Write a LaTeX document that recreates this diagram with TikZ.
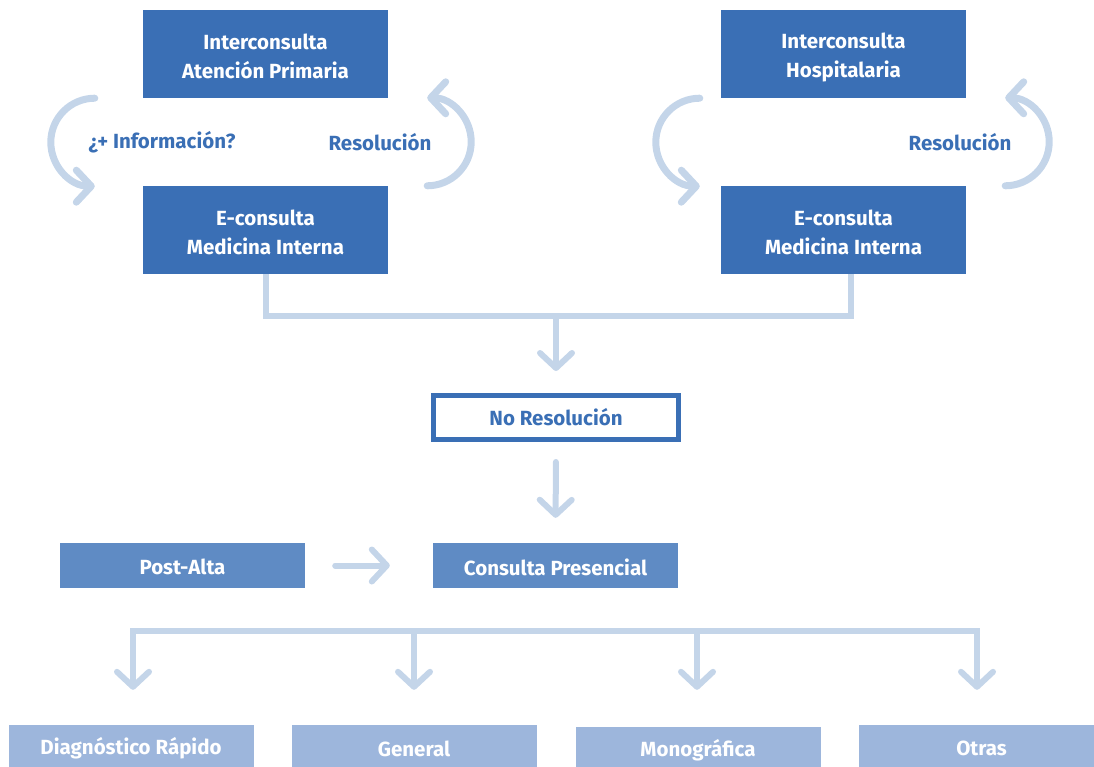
\documentclass[tikz,border=0pt]{standalone}
\usepackage{fontspec}
\setmainfont{Fira Sans}
\usetikzlibrary{arrows.meta}
\definecolor{dkblue}{HTML}{3A6FB5}
\definecolor{mdblue}{HTML}{5F8BC4}
\definecolor{ltblue}{HTML}{9DB6DC}
\definecolor{conn}{HTML}{C4D5E9}
\begin{document}
\begin{tikzpicture}[x=1pt,y=-1pt,
  boxfont/.style={font=\fontsize{20.5}{29}\selectfont\bfseries},
  darkbox/.style={fill=dkblue, minimum width=245pt, minimum height=88pt, inner sep=0pt},
  midbox/.style={fill=mdblue, minimum width=245pt, minimum height=45pt, inner sep=0pt},
  lightbox/.style={fill=ltblue, minimum width=245pt, minimum height=44pt, inner sep=0pt},
  boxtext/.style={boxfont, text=white, align=center, inner sep=0pt},
  framebox/.style={boxfont, draw=dkblue, line width=5pt, fill=white, text=dkblue, minimum width=245pt, minimum height=44pt, inner sep=0pt},
  lbl/.style={boxfont, text=dkblue, inner sep=0pt},
  connline/.style={draw=conn, line width=6pt},
  arr/.style={draw=conn, line width=6pt, line cap=round, -{Straight Barb[length=15pt,width=32pt,round]}},
  carr/.style={draw=conn, line width=7pt, line cap=round, -{Straight Barb[length=15pt,width=32pt,round]}}
]
\useasboundingbox (0,0) rectangle (1094,767);

% top boxes
\node[darkbox] (ap)   at (265.5,54) {};
\node[darkbox] (hosp) at (843.5,54) {};
\node[darkbox] (ecl)  at (265.5,230) {};
\node[darkbox] (ecr)  at (843.5,230) {};
\node[boxtext] (apt)   at ([yshift=-2.5pt]ap.center) {Interconsulta\\Atención Primaria};
\node[boxtext] (hospt) at ([yshift=-3pt]hosp.center) {Interconsulta\\Hospitalaria};
\node[boxtext] (eclt)  at ([yshift=-2.5pt]ecl.center) {E-consulta\\Medicina Interna};
\node[boxtext] (ecrt)  at ([yshift=-2.5pt]ecr.center) {E-consulta\\Medicina Interna};

% labels
\node[lbl] (info) at (162,142) {¿+ Información?};
\node[lbl] (resl) at (380,142) {Resolución};
\node[lbl] (resr) at (960,142) {Resolución};

% curved arrows
\draw[carr] ([xshift=-48pt]ap.south west) arc[start angle=270,end angle=90,radius=44];
\draw[carr] ([xshift=39pt]ecl.north east) arc[start angle=90,end angle=-90,radius=44];
\draw[carr] ([xshift=-21pt]hosp.south west) arc[start angle=270,end angle=90,radius=44];
\draw[carr] ([xshift=39pt]ecr.north east) arc[start angle=90,end angle=-90,radius=44];

% middle
\node[framebox] (nores) at (556,417.5) {No Resolución};
\node[midbox] (post) at (182.5,565.5) {};
\node[midbox] (cons) at (555.5,565.5) {};
\node[boxtext] (postt) at ([yshift=-1.5pt]post.center) {Post-Alta};
\node[boxtext] (const) at ([yshift=-1.5pt]cons.center) {Consulta Presencial};

\coordinate (j1) at (556,316);
\draw[connline] (ecl.south) |- (j1) -| ([xshift=7.5pt]ecr.south);
\draw[arr, shorten >=22pt] (j1) -- (nores.north);
\draw[arr, shorten <=20pt, shorten >=25pt] (nores.south) -- (cons.north);
\draw[arr, shorten <=30pt, shorten >=43pt] (post.east) -- (cons.west);

% bottom boxes
\node[lightbox] (diag) at (131,747) {};
\node[lightbox] (gen)  at (414,747) {};
\node[lightbox] (mono) at (698,749) {};
\node[lightbox] (otr)  at (981.5,747) {};
\node[boxtext] (diagt) at ([yshift=-1.5pt]diag.center) {Diagnóstico Rápido};
\node[boxtext] (gent)  at ([yshift=-1.5pt]gen.center) {General};
\node[boxtext] (monot) at ([yshift=-1.5pt]mono.center) {Monográfica};
\node[boxtext] (otrt)  at ([yshift=-1.5pt]otr.center) {Otras};

\coordinate (b1) at (133,631);
\coordinate (b2) at (414,631);
\coordinate (b3) at (697,631);
\coordinate (b4) at (977,631);
\draw[connline, line cap=rect] (b1) -- (b4);
\draw[arr] (b1) -- (b1 |- diag.north) [shorten >=35pt];
\draw[arr, shorten >=35pt] (b2) -- (b2 |- gen.north);
\draw[arr, shorten >=37pt] (b3) -- (b3 |- mono.north);
\draw[arr, shorten >=35pt] (b4) -- (b4 |- otr.north);
\end{tikzpicture}
\end{document}
